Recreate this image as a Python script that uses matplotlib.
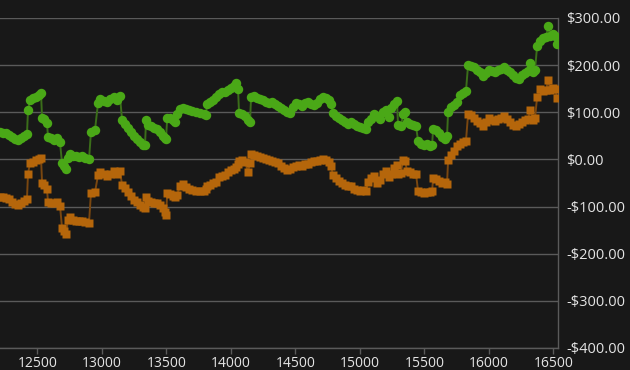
import matplotlib
matplotlib.use("Agg")
import matplotlib.pyplot as plt
from matplotlib.ticker import FuncFormatter

# DATA

x_vals = [12211, 12234, 12258, 12281, 12304, 12327, 12351, 12374, 12397, 12420,
          12428, 12444, 12467, 12490, 12513, 12529,
          12537, 12552, 12575,
          12583, 12606, 12630, 12653, 12676,
          12692, 12707, 12723, 12738, 12754, 12777, 12800, 12823, 12847, 12870, 12901,
          12916, 12947,
          12971, 12986, 13017, 13040, 13064, 13095, 13118, 13141,
          13157, 13180, 13203, 13226, 13250, 13273, 13296, 13320, 13335,
          13343, 13358, 13382, 13405, 13428, 13451, 13475, 13490, 13498,
          13507, 13529, 13552, 13568, 13583, 13606, 13630, 13653, 13676, 13699, 13730, 13761, 13792, 13808,
          13816, 13839, 13862, 13885, 13909, 13932, 13955, 13978, 14002, 14025, 14040, 14056,
          14064, 14087, 14110, 14133, 14149,
          14157, 14180, 14203, 14227, 14250, 14273, 14296, 14320, 14343, 14366,
          14389, 14413, 14436, 14459, 14482, 14506, 14529, 14552, 14575, 14599,
          14622, 14645, 14668, 14692, 14715, 14738, 14761, 14777,
          14792, 14816, 14839, 14862, 14885, 14909, 14932, 14955, 14978, 15002, 15025, 15048,
          15064, 15087, 15110, 15134, 15157, 15180, 15203, 15227, 15242, 15265, 15288,
          15296, 15319, 15335, 15351, 15366, 15389, 15412, 15436,
          15451, 15474, 15498, 15521, 15544, 15560,
          15568, 15591, 15614, 15637, 15661, 15676,
          15684, 15707, 15730, 15754, 15777, 15800, 15823,
          15839, 15862, 15885, 15909, 15932, 15955, 15978, 16002, 16025, 16048, 16071, 16095,
          16118, 16141, 16164, 16188, 16211, 16234, 16258, 16281, 16304, 16320, 16343, 16358,
          16374, 16397, 16420, 16444, 16459, 16475, 16498, 16513, 16529]

green_vals = [58, 56, 55, 52, 48, 43, 42, 45, 50, 53,
              105, 125, 130, 133, 136, 140,
              88, 85, 78,
              48, 45, 42, 45, 36,
              -8, -14, -20, 2, 12, 8, 8, 6, 8, 4, 0,
              58, 62,
              120, 128, 124, 122, 128, 132, 126, 134,
              84, 76, 66, 58, 50, 44, 36, 30, 30,
              84, 72, 70, 67, 64, 58, 50, 46, 44,
              88, 88, 84, 80, 96, 106, 110, 106, 104, 103, 101, 99, 97, 95,
              118, 122, 126, 132, 138, 142, 144, 148, 152, 156, 162, 150,
              98, 96, 92, 84, 80,
              132, 134, 130, 128, 125, 122, 120, 121, 118, 114,
              110, 104, 100, 98, 112, 120, 118, 114, 120, 122,
              118, 115, 120, 128, 133, 130, 126, 118,
              98, 92, 88, 84, 80, 76, 80, 76, 70, 68, 66, 64,
              80, 86, 96, 92, 86, 100, 104, 90, 110, 118, 124,
              74, 70, 96, 100, 80, 76, 74, 70,
              40, 32, 30, 32, 28, 30,
              64, 62, 56, 48, 44, 50,
              100, 112, 116, 122, 136, 140, 146,
              200, 198, 196, 190, 186, 176, 184, 190, 188, 186, 190, 192,
              196, 190, 186, 178, 172, 170, 180, 184, 188, 204, 186, 190,
              240, 252, 258, 260, 282, 262, 266, 262, 244]

orange_vals = [-80, -80, -82, -84, -90, -94, -96, -93, -88, -84,
               -30, -8, -5, -2, 0, 4,
               -50, -55, -62,
               -90, -92, -92, -90, -98,
               -146, -152, -158, -128, -122, -128, -130, -131, -130, -132, -134,
               -72, -70,
               -33, -27, -32, -35, -30, -24, -30, -24,
               -54, -60, -70, -78, -86, -90, -96, -100, -104,
               -80, -88, -90, -92, -92, -97, -104, -112, -118,
               -72, -74, -78, -80, -76, -56, -52, -58, -62, -64, -66, -67, -66, -62,
               -56, -54, -50, -48, -38, -36, -34, -26, -22, -20, -16, -10,
               -4, -2, -6, -26, -8,
               12, 10, 8, 6, 2, 0, -2, -4, -6, -8,
               -14, -18, -22, -20, -16, -14, -12, -14, -10, -10,
               -6, -4, -4, -2, 0, -2, -6, -14,
               -34, -40, -46, -50, -54, -56, -56, -62, -64, -66, -64, -68,
               -48, -40, -36, -50, -44, -32, -24, -38, -30, -18, -12,
               -30, -28, -2, -4, -24, -26, -30, -32,
               -66, -70, -72, -70, -70, -68,
               -40, -42, -46, -50, -48, -52,
               -2, 10, 18, 28, 32, 36, 40,
               96, 94, 88, 82, 78, 70, 80, 88, 84, 82, 86, 88,
               92, 86, 80, 74, 70, 76, 80, 84, 86, 104, 84, 88,
               132, 150, 146, 148, 168, 148, 152, 150, 130]

y_ticks = [300, 200, 100, 0, -100, -200, -300, -400]
x_ticks = [12500, 13000, 13500, 14000, 14500, 15000, 15500, 16000, 16500]

assert len(x_vals) == len(green_vals) == len(orange_vals), (len(x_vals), len(green_vals), len(orange_vals))

# ESTILO

bg = "#181818"
grid_col = "#5a5a5a"
text_col = "#e4e4e4"
green = "#4aa817"
orange = "#b5660b"

plt.rcParams["font.family"] = ["Open Sans", "DejaVu Sans"]

fig = plt.figure(figsize=(6.3, 3.7), dpi=100)
fig.patch.set_facecolor(bg)
ax = fig.add_axes([0.0, 0.0595, 0.8857, 0.8919])
ax.set_facecolor(bg)

# series
ax.plot(x_vals, orange_vals, color="#7a4710", lw=1.4, zorder=2)
ax.plot(x_vals, orange_vals, ls="none", marker="s", ms=6.2, color=orange, mec="none", zorder=3)
ax.plot(x_vals, green_vals, color="#3b6e1a", lw=1.4, zorder=2)
ax.plot(x_vals, green_vals, ls="none", marker="o", ms=6.8, color=green, mec="none", zorder=3)

ax.set_xlim(12211, 16536)
ax.set_ylim(-400, 300)

ax.set_yticks(y_ticks)
ax.set_xticks(x_ticks)
ax.yaxis.tick_right()
ax.yaxis.set_major_formatter(FuncFormatter(
    lambda v, p: ("-$%.2f" % abs(v)) if v < 0 else ("$%.2f" % v)))

ax.grid(axis="y", color=grid_col, lw=1)
ax.set_axisbelow(True)

for side in ["left", "top"]:
    ax.spines[side].set_visible(False)
for side in ["right", "bottom"]:
    ax.spines[side].set_color(grid_col)
    ax.spines[side].set_linewidth(1)

ax.tick_params(axis="y", length=0, pad=6, labelsize=10.5, colors=text_col)
ax.tick_params(axis="x", length=4, width=1, color=grid_col, pad=2, labelsize=10, labelcolor=text_col)

fig.savefig("out.png", dpi=100, facecolor=bg)
